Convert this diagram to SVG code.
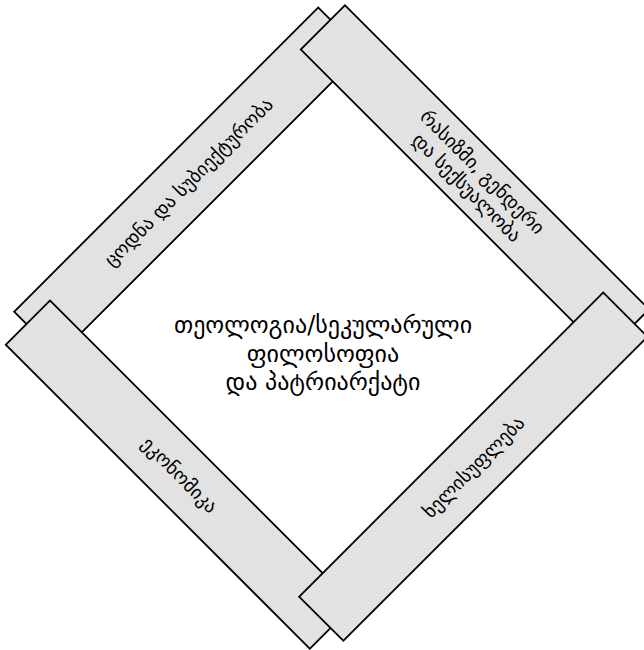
<svg xmlns="http://www.w3.org/2000/svg" width="644" height="650" viewBox="0 0 644 650">
<style>
.bar{fill:#e2e2e2;stroke:#000;stroke-width:1.8}
.lbl{font-family:"DejaVu Sans","Noto Sans",sans-serif;font-size:19px;fill:#000;text-anchor:middle;dominant-baseline:central}
.ctr{font-family:"DejaVu Sans","Noto Sans",sans-serif;font-size:24px;fill:#000;text-anchor:middle;dominant-baseline:central}
</style>
<rect width="644" height="650" fill="#fff"/>
<g id="node-knowledge" transform="translate(188.3,181.7) rotate(-45)">
<rect class="bar" x="-215" y="-31.25" width="430" height="62.5"/>
<text class="lbl" x="0" y="0">ცოდნა და სუბიექტურობა</text>
</g>
<g id="node-race" transform="translate(474.9,179.4) rotate(45)">
<rect class="bar" x="-215" y="-31.25" width="430" height="62.5"/>
<text class="lbl" x="0" y="-11">რასიზმი, გენდერი</text>
<text class="lbl" x="0" y="11">და სექსუალობა</text>
</g>
<g id="node-economy" transform="translate(179.9,474.6) rotate(45)">
<rect class="bar" x="-215" y="-31.25" width="430" height="62.5"/>
<text class="lbl" x="0" y="0">ეკონომიკა</text>
</g>
<g id="node-power" transform="translate(473.3,466.7) rotate(-45)">
<rect class="bar" x="-215" y="-31.25" width="430" height="62.5"/>
<text class="lbl" x="0" y="0">ხელისუფლება</text>
</g>
<g id="node-center">
<text class="ctr" x="323" y="325">თეოლოგია/სეკულარული</text>
<text class="ctr" x="323" y="354">ფილოსოფია</text>
<text class="ctr" x="323" y="382">და პატრიარქატი</text>
</g>
<g id="connectors"/>
</svg>
